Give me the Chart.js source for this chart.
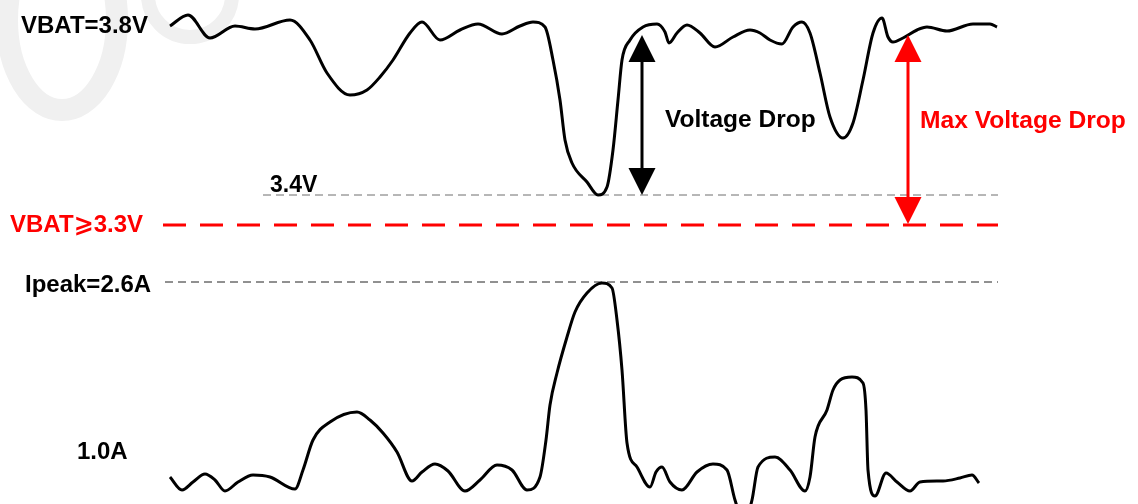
<!DOCTYPE html>
<html>
<head>
<meta charset="utf-8">
<script src="https://cdn.jsdelivr.net/npm/chart.js@4/dist/chart.umd.min.js"></script>
<style>
    body { margin: 0; background: #ffffff; }
    #wrap { width: 1138px; height: 504px; }
</style>
</head>
<body>
<div id="wrap"><canvas id="chart" width="1138" height="504"></canvas></div>
<script>
// schematic coordinates: x = time, y = drawing height (0 at top)
const voltage_x = [170, 188, 210, 235, 255, 290, 310, 327, 350, 367, 380, 393, 410, 422, 440, 460, 478, 502, 520, 533, 545, 553, 560, 565, 572, 587, 598, 607, 613, 618, 622, 630, 643, 657, 665, 669, 677, 687, 700, 715, 733, 750, 760, 770, 782, 793, 802, 810, 820, 830, 843, 853, 863, 873, 882, 888, 893, 903, 917, 927, 947, 973, 990, 997];
const voltage_y = [26, 15, 38, 26, 29, 20, 40, 73, 95, 90, 77, 60, 33, 22, 40, 30, 24, 34, 26, 22, 27, 60, 100, 140, 163, 182, 195, 187, 150, 100, 60, 40, 27, 24, 32, 43, 33, 25, 33, 47, 37, 30, 33, 40, 44, 27, 22, 33, 73, 117, 138, 123, 80, 33, 18, 37, 42, 38, 30, 27, 31, 24, 24, 27];

const current_x = [170, 182, 193, 205, 215, 225, 238, 253, 270, 295, 303, 313, 330, 357, 370, 383, 397, 412, 422, 435, 448, 465, 480, 497, 512, 527, 540, 546, 550, 557, 567, 575, 587, 602, 612, 617, 622, 627, 637, 650, 656, 662, 670, 682, 697, 713, 727, 735, 744, 752, 758, 775, 790, 805, 810, 815, 827, 833, 840, 852, 863, 866, 868, 875, 886, 897, 910, 920, 943, 960, 972, 979];
const current_y = [477, 490, 482, 474, 480, 491, 482, 475, 477, 489, 470, 440, 422, 412, 420, 433, 452, 481, 472, 464, 471, 491, 480, 465, 470, 490, 477, 440, 405, 373, 337, 312, 293, 283, 288, 320, 370, 443, 467, 487, 472, 467, 482, 490, 472, 464, 470, 500, 522, 500, 467, 457, 470, 491, 477, 437, 410, 390, 380, 377, 383, 410, 470, 496, 473, 482, 491, 482, 481, 478, 475, 483];

// reference levels: [x start, x end, y]
const level_34v = [263, 998, 195];
const level_33v = [163, 998, 225];
const level_ipeak = [165, 998, 282];

// double arrows: x, top tip, bottom tip
const arrow_drop = [642, 35, 195];
const arrow_max_drop = [908, 35, 224];

const label_texts = ['VBAT=3.8V', 'Voltage Drop', 'Max Voltage Drop', '3.4V', 'VBAT\u2A7E3.3V', 'Ipeak=2.6A', '1.0A'];
const label_x = [21, 665, 920, 270, 10, 25, 77];
const label_y = [33, 127, 128, 192, 232, 292, 459];
const label_size = [24, 24.5, 24.6, 23, 24, 24, 24];
const label_red = [false, false, true, false, true, false, false];

const RED = '#ff0000';

function to_points(xs, ys)
{
    return xs.map((x, i) => ({ x: x, y: ys[i] }));
}

function level_points(level)
{
    return [{ x: level[0], y: level[2] }, { x: level[1], y: level[2] }];
}

const decorations =
{
    id: 'decorations',
    beforeDatasetsDraw(chart)
    {
        const ctx = chart.ctx;
        // faint watermark rings
        ctx.save();
        ctx.strokeStyle = '#f0f0f0';
        ctx.lineWidth = 22;
        ctx.beginPath();
        ctx.ellipse(62, 20, 55, 90, 0, 0, Math.PI * 2);
        ctx.stroke();
        ctx.lineWidth = 14;
        ctx.beginPath();
        ctx.ellipse(190, -5, 42, 42, 0, 0, Math.PI * 2);
        ctx.stroke();
        ctx.restore();
    },
    afterDatasetsDraw(chart)
    {
        const ctx = chart.ctx;
        const xs = chart.scales.x;
        const ys = chart.scales.y;

        function draw_arrow(a, color)
        {
            const x = xs.getPixelForValue(a[0]);
            const top = ys.getPixelForValue(a[1]);
            const bottom = ys.getPixelForValue(a[2]);
            const head = 27, half = 13.5;
            ctx.save();
            ctx.strokeStyle = color;
            ctx.fillStyle = color;
            ctx.lineWidth = 3;
            ctx.beginPath();
            ctx.moveTo(x, top + head - 2);
            ctx.lineTo(x, bottom - head + 2);
            ctx.stroke();
            ctx.beginPath();
            ctx.moveTo(x, top);
            ctx.lineTo(x - half, top + head);
            ctx.lineTo(x + half, top + head);
            ctx.closePath();
            ctx.fill();
            ctx.beginPath();
            ctx.moveTo(x, bottom);
            ctx.lineTo(x - half, bottom - head);
            ctx.lineTo(x + half, bottom - head);
            ctx.closePath();
            ctx.fill();
            ctx.restore();
        }

        draw_arrow(arrow_drop, '#000000');
        draw_arrow(arrow_max_drop, RED);

        ctx.save();
        ctx.textAlign = 'left';
        ctx.textBaseline = 'alphabetic';
        label_texts.forEach((t, i) =>
        {
            ctx.font = 'bold ' + label_size[i] + 'px "Liberation Sans", Arial, "DejaVu Sans", "Noto Sans CJK SC", sans-serif';
            ctx.fillStyle = label_red[i] ? RED : '#000000';
            ctx.fillText(t, xs.getPixelForValue(label_x[i]), ys.getPixelForValue(label_y[i]));
        });
        ctx.restore();
    }
};

const config =
{
    type: 'line',
    data:
    {
        datasets:
            [{
                label: 'VBAT',
                data: to_points(voltage_x, voltage_y),
                borderColor: '#000000',
                borderWidth: 3,
                pointRadius: 0,
                cubicInterpolationMode: 'monotone'
            },
            {
                label: 'Current',
                data: to_points(current_x, current_y),
                borderColor: '#000000',
                borderWidth: 3,
                pointRadius: 0,
                cubicInterpolationMode: 'monotone'
            },
            {
                label: '3.4V',
                data: level_points(level_34v),
                borderColor: '#6e6e6e',
                borderWidth: 1,
                borderDash: [8, 5],
                pointRadius: 0
            },
            {
                label: '3.3V',
                data: level_points(level_33v),
                borderColor: RED,
                borderWidth: 3,
                borderDash: [23, 14],
                pointRadius: 0
            },
            {
                label: 'Ipeak',
                data: level_points(level_ipeak),
                borderColor: '#222222',
                borderWidth: 1,
                borderDash: [8, 5],
                pointRadius: 0
            }]
    },
    options:
    {
        responsive: false,
        animation: false,
        devicePixelRatio: 1,
        layout: { padding: 0 },
        scales:
        {
            x: { type: 'linear', min: 0, max: 1138, display: false },
            y: { type: 'linear', min: 0, max: 504, reverse: true, display: false }
        },
        plugins:
        {
            legend: { display: false },
            tooltip: { enabled: false }
        }
    },
    plugins: [decorations]
};

new Chart(document.querySelector('#chart'), config);
</script>
</body>
</html>
